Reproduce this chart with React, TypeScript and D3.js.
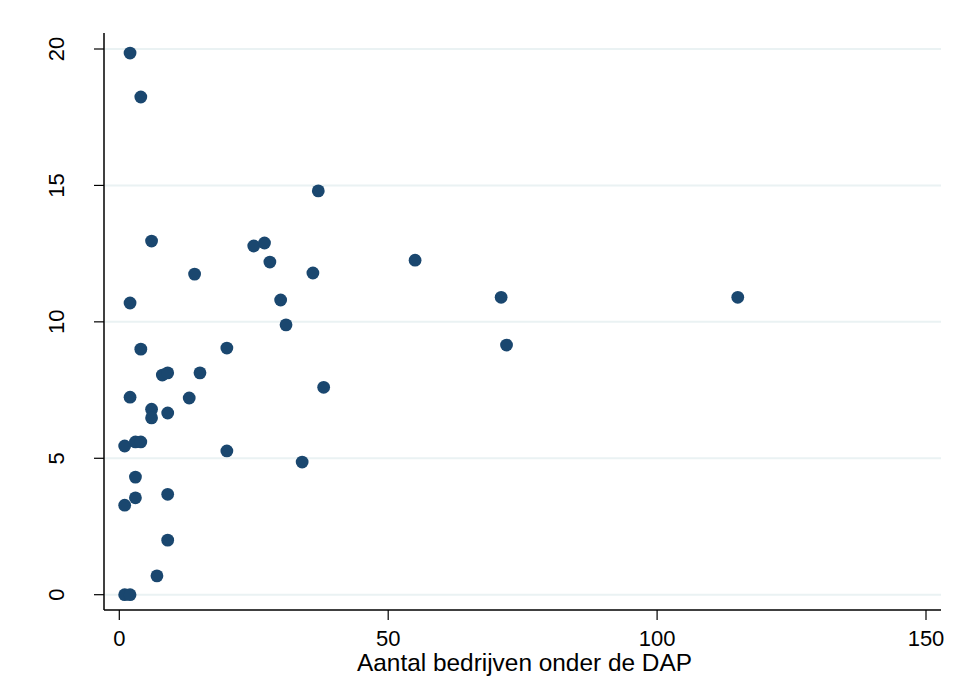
import React from "react";
import * as d3 from "d3";

const xValues = [2, 4, 37, 6, 25, 27, 28, 14, 36, 55, 71, 115, 2, 30, 31, 4, 20, 72, 8, 9, 15, 38, 2, 13, 6, 9, 6, 1, 3, 4, 20, 34, 3, 1, 3, 9, 9, 7, 1, 2];
const yValues = [19.85, 18.24, 14.8, 12.96, 12.78, 12.89, 12.19, 11.75, 11.79, 12.26, 10.9, 10.9, 10.69, 10.8, 9.89, 9.0, 9.04, 9.15, 8.05, 8.13, 8.13, 7.6, 7.24, 7.21, 6.8, 6.66, 6.48, 5.45, 5.6, 5.6, 5.27, 4.86, 4.31, 3.28, 3.55, 3.68, 2.0, 0.69, 0, 0];
const xTicks = [0, 50, 100, 150];
const yTicks = [0, 5, 10, 15, 20];
const xTitle = "Aantal bedrijven onder de DAP";

export default function App() {
  const W = 955, H = 699;
  const left = 104, right = 941, top = 33, bottom = 610;
  const x = d3.scaleLinear().domain([0, 150]).range([119.3, 926]);
  const y = d3.scaleLinear().domain([0, 20]).range([594.7, 49]);
  const font = "Liberation Sans, Arial, Helvetica, sans-serif";
  return (
    <svg width={W} height={H} style={{ position: "absolute", left: 0, top: 0, background: "#fff" }}>
      <rect x={0} y={0} width={W} height={H} fill="#fff" />
      {yTicks.map((t) => (
        <line key={"g" + t} x1={left + 1} x2={right} y1={y(t)} y2={y(t)} stroke="#eaf2f3" strokeWidth={2} />
      ))}
      <line x1={left} x2={left} y1={top} y2={bottom} stroke="#000" strokeWidth={1.5} />
      <line x1={left} x2={right} y1={bottom} y2={bottom} stroke="#000" strokeWidth={1.5} />
      {yTicks.map((t) => (
        <g key={"y" + t}>
          <line x1={left - 10} x2={left} y1={y(t)} y2={y(t)} stroke="#000" strokeWidth={1.2} />
          <text
            transform={`translate(63.5,${y(t)}) rotate(-90)`}
            textAnchor="middle"
            fontFamily={font}
            fontSize={22}
            fill="#000"
          >
            {t}
          </text>
        </g>
      ))}
      {xTicks.map((t) => (
        <g key={"x" + t}>
          <line x1={x(t)} x2={x(t)} y1={bottom} y2={bottom + 10} stroke="#000" strokeWidth={1.2} />
          <text x={x(t)} y={646} textAnchor="middle" fontFamily={font} fontSize={22} fill="#000">
            {t}
          </text>
        </g>
      ))}
      <text x={524.5} y={671} textAnchor="middle" fontFamily={font} fontSize={24.4} fill="#000">
        {xTitle}
      </text>
      {xValues.map((v, i) => (
        <circle key={"p" + i} cx={x(v)} cy={y(yValues[i])} r={6.4} fill="#1a476f" />
      ))}
    </svg>
  );
}
